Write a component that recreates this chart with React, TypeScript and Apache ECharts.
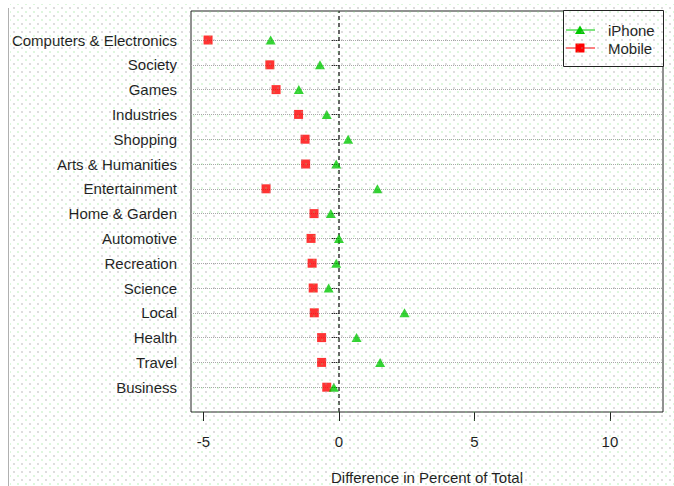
import React, { useEffect, useRef } from "react";
import * as echarts from "echarts";

const categories = [
  "Computers & Electronics",
  "Society",
  "Games",
  "Industries",
  "Shopping",
  "Arts & Humanities",
  "Entertainment",
  "Home & Garden",
  "Automotive",
  "Recreation",
  "Science",
  "Local",
  "Health",
  "Travel",
  "Business",
];
const iphoneValues = [-2.52, -0.7, -1.48, -0.45, 0.34, -0.1, 1.42, -0.3, 0.0, -0.1, -0.38, 2.42, 0.65, 1.52, -0.19];
const mobileValues = [-4.83, -2.55, -2.32, -1.49, -1.25, -1.23, -2.69, -0.92, -1.03, -0.99, -0.95, -0.91, -0.64, -0.64, -0.45];
const xTicks = [-5, 0, 5, 10];
const seriesNames = ["iPhone", "Mobile"];

const FONT = "'Liberation Sans', Arial, Helvetica, sans-serif";
const GREEN = "#00c800";
const RED = "#ff0000";
const TEXT = "#1e1e1e";

export default function App() {
  const ref = useRef<HTMLDivElement>(null);

  useEffect(() => {
    if (!ref.current) return;
    const chart = echarts.init(ref.current, null, { renderer: "svg" });
    const n = categories.length;
    const yPos = categories.map((_, i) => n - i);

    chart.setOption({
      animation: false,
      backgroundColor: "transparent",
      textStyle: { fontFamily: FONT },
      grid: {
        left: 191,
        top: 11,
        width: 472,
        height: 401,
        outerBoundsMode: "none",
        containLabel: false,
        show: true,
        borderColor: "#222",
        borderWidth: 1,
        backgroundColor: "transparent",
      },
      xAxis: {
        type: "value",
        min: -5.46,
        max: 11.96,
        axisLine: { show: false },
        splitLine: { show: false },
        axisTick: {
          show: true,
          length: 9,
          customValues: xTicks,
          lineStyle: { color: "#222", width: 1 },
        },
        axisLabel: {
          customValues: xTicks,
          margin: 22,
          fontSize: 15,
          color: TEXT,
          fontFamily: FONT,
        },
        name: "Difference in Percent of Total",
        nameLocation: "middle",
        nameGap: 58,
        nameTextStyle: { fontSize: 15, color: TEXT, fontFamily: FONT },
      },
      yAxis: {
        type: "value",
        min: 0,
        max: 16.17,
        axisLine: { show: false },
        splitLine: { show: false },
        axisTick: {
          show: true,
          length: 8,
          customValues: yPos,
          lineStyle: { color: "#222", width: 1 },
        },
        axisLabel: {
          customValues: yPos,
          margin: 14,
          fontSize: 15,
          color: TEXT,
          fontFamily: FONT,
          formatter: (v: number) => categories[n - Math.round(v)] ?? "",
        },
      },
      graphic: [
        {
          type: "line",
          shape: { x1: 8.5, y1: 8, x2: 8.5, y2: 486 },
          style: { stroke: "#b0b0b0", lineWidth: 1 },
          z: 100,
        },
        {
          type: "group",
          z: 100,
          children: [
            {
              type: "rect",
              shape: { x: 563.5, y: 10.5, width: 100, height: 56 },
              style: { fill: "#fff", stroke: "#222", lineWidth: 1 },
              z: 100,
            },
            {
              type: "line",
              shape: { x1: 566, y1: 30, x2: 595, y2: 30 },
              style: { stroke: GREEN, lineWidth: 1 },
              z: 101,
            },
            {
              type: "polygon",
              shape: { points: [[575, 34], [585, 34], [580, 25.5]] },
              style: { fill: GREEN },
              z: 102,
            },
            {
              type: "text",
              x: 608,
              y: 30,
              style: { text: seriesNames[0], fontSize: 15, fill: TEXT, fontFamily: FONT, verticalAlign: "middle" },
              z: 102,
            },
            {
              type: "line",
              shape: { x1: 566, y1: 48, x2: 595, y2: 48 },
              style: { stroke: RED, lineWidth: 1 },
              z: 101,
            },
            {
              type: "rect",
              shape: { x: 575.5, y: 43.5, width: 9, height: 9 },
              style: { fill: RED },
              z: 102,
            },
            {
              type: "text",
              x: 608,
              y: 48,
              style: { text: seriesNames[1], fontSize: 15, fill: TEXT, fontFamily: FONT, verticalAlign: "middle" },
              z: 102,
            },
          ],
        },
      ],
      series: [
        {
          type: "scatter",
          name: "rows",
          data: [],
          silent: true,
          z: 1,
          markLine: {
            silent: true,
            symbol: ["none", "none"],
            label: { show: false },
            z: 1,
            lineStyle: { type: "dotted", color: "#a8a8a8", width: 1 },
            data: yPos.map((y) => ({ yAxis: y })),
          },
        },
        {
          type: "scatter",
          name: "zero",
          data: [],
          silent: true,
          z: 2,
          markLine: {
            silent: true,
            symbol: ["none", "none"],
            label: { show: false },
            z: 2,
            lineStyle: { type: [4, 3], color: "#333", width: 1.5 },
            data: [{ xAxis: 0 }],
          },
        },
        {
          type: "scatter",
          name: seriesNames[1],
          symbol: "rect",
          symbolSize: 9,
          itemStyle: { color: RED },
          z: 5,
          data: mobileValues.map((v, i) => [v, yPos[i]]),
        },
        {
          type: "scatter",
          name: seriesNames[0],
          symbol: "triangle",
          symbolSize: [10, 9],
          itemStyle: { color: GREEN },
          z: 6,
          data: iphoneValues.map((v, i) => [v, yPos[i]]),
        },
      ],
    });

    return () => chart.dispose();
  }, []);

  return (
    <div style={{ position: "fixed", left: 0, top: 0, width: 674, height: 486, background: "#fff" }}>
      <div ref={ref} style={{ position: "absolute", left: 0, top: 0, width: 674, height: 486 }} />
      <div
        style={{
          position: "absolute",
          left: 10,
          top: 4,
          width: 664,
          height: 482,
          pointerEvents: "none",
          backgroundImage:
            "radial-gradient(circle, rgba(150,150,150,0.32) 0.7px, transparent 1.2px), radial-gradient(circle, rgba(120,220,120,0.25) 0.7px, transparent 1.2px)",
          backgroundSize: "8px 8px, 8px 8px",
          backgroundPosition: "0px 0px, 4px 4px",
        }}
      />
    </div>
  );
}
